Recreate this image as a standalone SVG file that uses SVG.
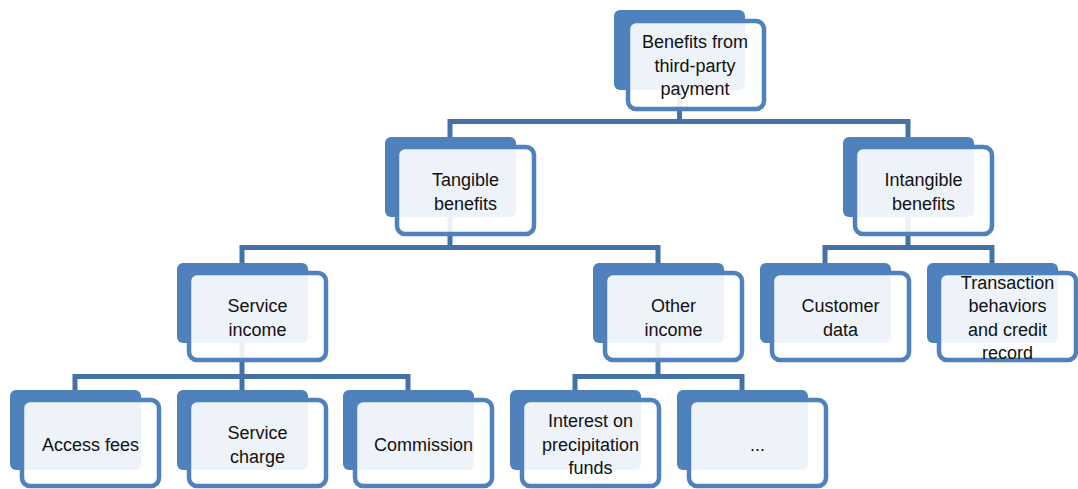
<svg xmlns="http://www.w3.org/2000/svg" width="1078" height="489" viewBox="0 0 1078 489">
<style>
.back{fill:#4F81BD;}
.front{fill:#FFFFFF;fill-opacity:0.9;stroke:#4F81BD;stroke-width:4.5;}
.conn{fill:none;stroke:#4472A6;stroke-width:5;stroke-linejoin:miter;}
text{font-family:"Liberation Sans",Arial,sans-serif;font-size:18px;fill:#111111;text-anchor:middle;}
</style>
<rect width="1078" height="489" fill="#FFFFFF"/>
<g id="connectors">
<path class="conn" d="M679.5 88 V121.5 M450 137 V121.5 H908 V137"/>
<path class="conn" d="M450 216 V247.5 M242 263 V247.5 H658 V263"/>
<path class="conn" d="M908 216 V247.5 M825 263 V247.5 H992 V263"/>
<path class="conn" d="M242 342 V376.5 M75 390 V376.5 H408 V390 M242 376.5 V390"/>
<path class="conn" d="M658 342 V376.5 M575 390 V376.5 H742 V390"/>
</g>
<g id="node-top">
<rect class="back" x="614" y="10" width="131" height="80" rx="6"/>
<rect class="front" x="628" y="21" width="136" height="88" rx="8"/>
<text x="695" y="48">Benefits from</text>
<text x="695" y="71.5">third-party</text>
<text x="695" y="95">payment</text>
</g>
<g id="node-tangible">
<rect class="back" x="385" y="137" width="131" height="80" rx="6"/>
<rect class="front" x="397" y="147" width="137" height="87" rx="8"/>
<text x="465.5" y="186">Tangible</text>
<text x="465.5" y="209.5">benefits</text>
</g>
<g id="node-intangible">
<rect class="back" x="843" y="137" width="131" height="80" rx="6"/>
<rect class="front" x="855" y="147" width="137" height="87" rx="8"/>
<text x="923.5" y="186">Intangible</text>
<text x="923.5" y="209.5">benefits</text>
</g>
<g id="node-service-income">
<rect class="back" x="177" y="263" width="131" height="80" rx="6"/>
<rect class="front" x="189" y="273" width="137" height="87" rx="8"/>
<text x="257.5" y="312">Service</text>
<text x="257.5" y="335.5">income</text>
</g>
<g id="node-other-income">
<rect class="back" x="593" y="263" width="131" height="80" rx="6"/>
<rect class="front" x="605" y="273" width="137" height="87" rx="8"/>
<text x="673.5" y="312">Other</text>
<text x="673.5" y="335.5">income</text>
</g>
<g id="node-customer-data">
<rect class="back" x="760" y="263" width="131" height="80" rx="6"/>
<rect class="front" x="772" y="273" width="137" height="87" rx="8"/>
<text x="840.5" y="312">Customer</text>
<text x="840.5" y="335.5">data</text>
</g>
<g id="node-transaction">
<rect class="back" x="927" y="263" width="131" height="80" rx="6"/>
<rect class="front" x="939" y="273" width="137" height="87" rx="8"/>
<text x="1007.5" y="288.5">Transaction</text>
<text x="1007.5" y="312">behaviors</text>
<text x="1007.5" y="335.5">and credit</text>
<text x="1007.5" y="359">record</text>
</g>
<g id="node-access-fees">
<rect class="back" x="10" y="390" width="131" height="80" rx="6"/>
<rect class="front" x="22" y="400" width="137" height="86" rx="8"/>
<text x="90.5" y="450.5">Access fees</text>
</g>
<g id="node-service-charge">
<rect class="back" x="177" y="390" width="131" height="80" rx="6"/>
<rect class="front" x="189" y="400" width="137" height="86" rx="8"/>
<text x="257.5" y="439">Service</text>
<text x="257.5" y="462.5">charge</text>
</g>
<g id="node-commission">
<rect class="back" x="343" y="390" width="131" height="80" rx="6"/>
<rect class="front" x="355" y="400" width="137" height="86" rx="8"/>
<text x="423.5" y="450.5">Commission</text>
</g>
<g id="node-interest">
<rect class="back" x="510" y="390" width="131" height="80" rx="6"/>
<rect class="front" x="522" y="400" width="137" height="86" rx="8"/>
<text x="590.5" y="427">Interest on</text>
<text x="590.5" y="450.5">precipitation</text>
<text x="590.5" y="474">funds</text>
</g>
<g id="node-more">
<rect class="back" x="677" y="390" width="131" height="80" rx="6"/>
<rect class="front" x="689" y="400" width="137" height="86" rx="8"/>
<text x="757.5" y="450.5">...</text>
</g>
</svg>
